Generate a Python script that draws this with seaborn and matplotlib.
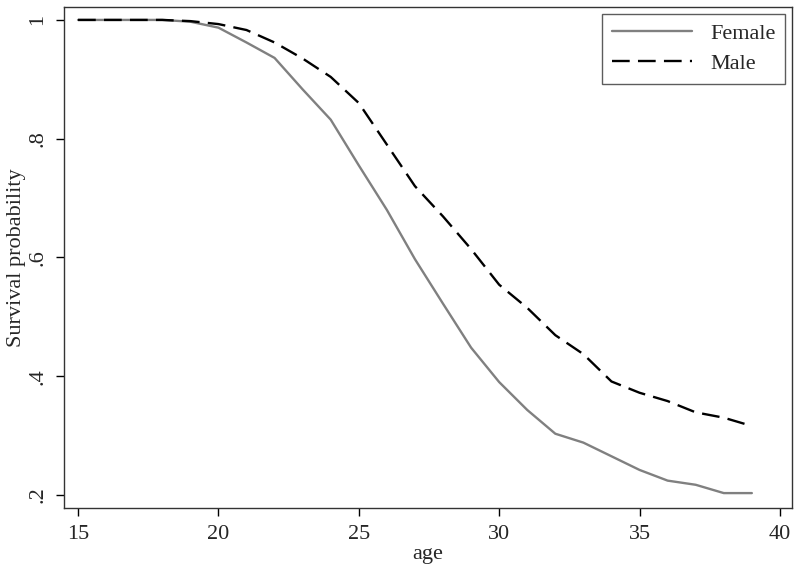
import matplotlib
matplotlib.use("Agg")
import matplotlib.pyplot as plt
import seaborn as sns
import pandas as pd

ages = list(range(15, 40))
female = [1.0, 1.0, 1.0, 1.0, 0.997, 0.987, 0.962, 0.936, 0.883, 0.832,
          0.755, 0.680, 0.597, 0.522, 0.448, 0.390, 0.343, 0.303, 0.288,
          0.265, 0.242, 0.224, 0.217, 0.203, 0.203]
male = [1.0, 1.0, 1.0, 1.0, 0.998, 0.993, 0.983, 0.962, 0.935, 0.904,
        0.860, 0.790, 0.720, 0.669, 0.614, 0.554, 0.515, 0.469, 0.437,
        0.391, 0.372, 0.358, 0.339, 0.330, 0.316]
groups = ["Female", "Male"]
xticks = [15, 20, 25, 30, 35, 40]
yticks = [0.2, 0.4, 0.6, 0.8, 1.0]
yticklabels = [".2", ".4", ".6", ".8", "1"]

df = pd.DataFrame({
    "age": ages * 2,
    "surv": female + male,
    "group": [groups[0]] * len(ages) + [groups[1]] * len(ages),
})

sns.set_theme(style="ticks")
plt.rcParams["font.family"] = ["Liberation Serif", "DejaVu Serif"]

fig = plt.figure(figsize=(8, 5.72), dpi=100)
fig.patch.set_facecolor("white")
ax = fig.add_axes([0.08, 0.112, 0.91, 0.876])

sns.lineplot(data=df, x="age", y="surv", hue="group", style="group",
             palette={"Female": "#808080", "Male": "black"},
             dashes={"Female": "", "Male": (7.5, 3.5)},
             linewidth=1.7, ax=ax)

ax.set_xlim(14.5, 40.43)
ax.set_ylim(0.178, 1.022)
ax.set_xticks(xticks)
ax.set_xticklabels([str(t) for t in xticks], fontsize=16)
ax.set_yticks(yticks)
ax.set_yticklabels(yticklabels, fontsize=16, rotation=90, va="center")
ax.tick_params(axis="both", direction="out", length=6, width=1, color="black")
ax.tick_params(axis="x", pad=6)
ax.tick_params(axis="y", pad=6)
ax.set_xlabel("age", fontsize=16, labelpad=1)
ax.set_ylabel("Survival probability", fontsize=16, labelpad=2)
for s in ax.spines.values():
    s.set_visible(True)
    s.set_color("#333333")
    s.set_linewidth(1.0)

leg = ax.legend(loc="upper right", fontsize=16, frameon=True, fancybox=False,
                edgecolor="#333333", handlelength=3.6, borderpad=0.45,
                labelspacing=0.4, borderaxespad=0.3, handletextpad=0.8,
                title=None)
leg.get_frame().set_linewidth(1.0)

fig.savefig("out.png", dpi=100, facecolor=fig.get_facecolor())
